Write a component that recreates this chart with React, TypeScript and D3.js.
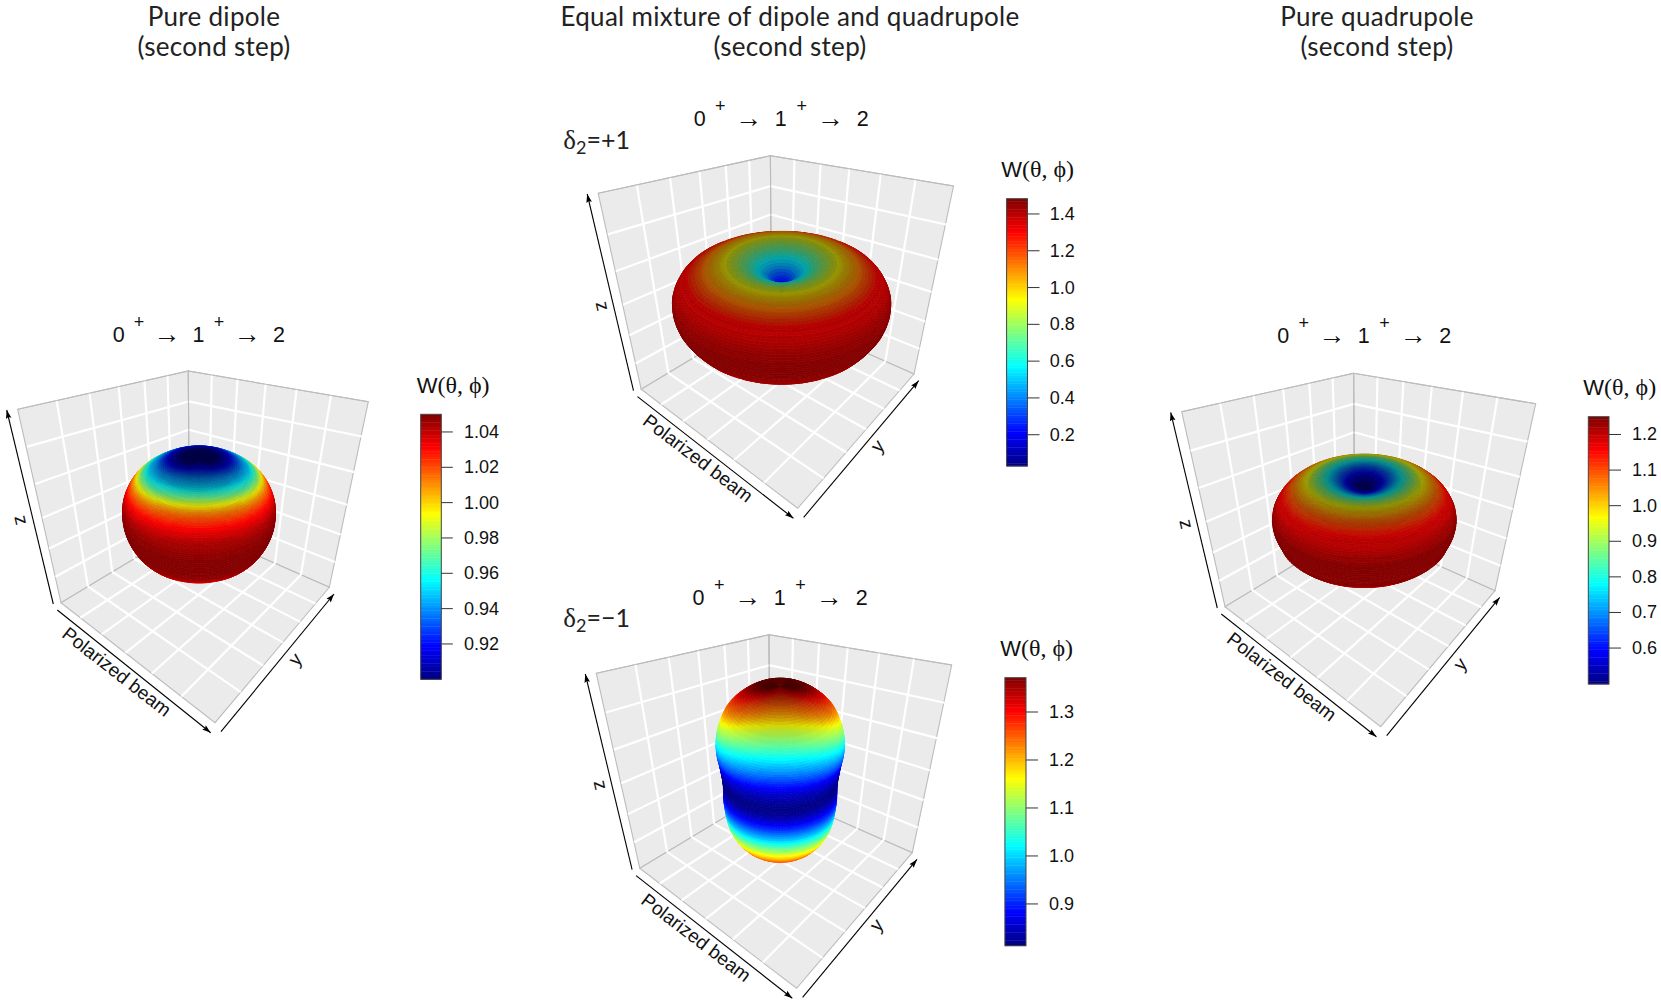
import React from "react";
import * as d3 from "d3";

// W(theta), one value per 4 degrees of polar angle (0 = +z, 180 = -z)
const polarStep = 4;
const wDipole = [.90,.90,.90,.903,.907,.912,.918,.925,.932,.94,.945,.95,.96,.97,.985,1.00,1.013,1.022,1.03,1.036,1.041,1.045,1.047,1.048,1.049,1.05,1.05,1.05,1.049,1.048,1.047,1.045,1.04,1.032,1.02,1.005,.995,.99,.985,.98,.975,.975,.97,.97,.97,.97];
const wMixPlus = [.03,.04,.06,.10,.16,.23,.31,.40,.49,.59,.68,.77,.86,.93,.98,1.04,1.10,1.15,1.21,1.28,1.34,1.38,1.41,1.44,1.46,1.47,1.48,1.48,1.48,1.47,1.46,1.45,1.44,1.42,1.40,1.37,1.33,1.29,1.24,1.18,1.12,1.05,1.00,.95,.92,.90];
const wMixMinus = [1.37,1.37,1.365,1.355,1.34,1.32,1.30,1.28,1.26,1.24,1.215,1.18,1.14,1.11,1.075,1.04,1.005,.97,.935,.90,.87,.85,.835,.825,.818,.82,.825,.84,.86,.885,.915,.945,.98,1.02,1.065,1.11,1.15,1.19,1.22,1.25,1.27,1.29,1.31,1.33,1.35,1.37];
const wQuad = [.50,.505,.515,.53,.55,.58,.62,.66,.71,.76,.81,.86,.91,.96,1.00,1.04,1.08,1.11,1.14,1.17,1.19,1.21,1.23,1.24,1.25,1.25,1.25,1.245,1.24,1.25,1.23,1.21,1.19,1.17,1.15,1.13,1.10,1.07,1.04,1.02,1.00,.98,.96,.94,.93,.92];

const ticksDipole = [0.92,0.94,0.96,0.98,1.00,1.02,1.04];
const ticksMixPlus = [0.2,0.4,0.6,0.8,1.0,1.2,1.4];
const ticksMixMinus = [0.9,1.0,1.1,1.2,1.3];
const ticksQuad = [0.6,0.7,0.8,0.9,1.0,1.1,1.2];

const rangeDipole: [number,number] = [0.90,1.05];
const rangeMixPlus: [number,number] = [0.03,1.483];
const rangeMixMinus: [number,number] = [0.813,1.3715];
const rangeQuad: [number,number] = [0.499,1.25];

const titles = [
  {x:214, lines:["Pure dipole","(second step)"]},
  {x:790, lines:["Equal mixture of dipole and quadrupole","(second step)"]},
  {x:1377, lines:["Pure quadrupole","(second step)"]},
];

const jetStops = ["#00007F","#0000FF","#007FFF","#00FFFF","#7FFF7F","#FFFF00","#FF7F00","#FF0000","#7F0000"];
const jetScale = d3.scaleLinear<string>().domain(jetStops.map((_,i)=>i/8)).range(jetStops).interpolate(d3.interpolateRgb).clamp(true);
const jetLevels = d3.range(100).map(i=>jetScale((i+.5)/100));

type P=[number,number];
interface Panel {
  B:P;L:P;R:P;T:P;F:P;LT:P;RT:P;
  w:number[]; range:[number,number]; ticks:number[]; fmt:string;
  cx:number;cy:number;rx:number;kz:number;ry:number;tilt:number;shadeK:number;shadeP:number;
  bar:[number,number,number,number]; tickLen:number; labelX:number;
  formula:[number,number,number]; wTitle:P; zLab:P; yLab:P; xLab:P;
  delta?:{x:number;y:number;s:string};
}
const panels:Panel[] = [
 {B:[189.3,525.7],L:[61,602.7],R:[329.3,587.3],T:[188.3,371],F:[215,722.7],LT:[17.7,409.3],RT:[368.3,401.7],
  w:wDipole,range:rangeDipole,ticks:ticksDipole,fmt:".2f",cx:199,cy:512,rx:73,kz:56,ry:42,tilt:15,shadeK:.5,shadeP:4,
  bar:[420.7,414.3,441.3,679.3],tickLen:11.5,labelX:464,formula:[118.7,341.7,1],wTitle:[416.7,392.7],zLab:[21.7,520],yLab:[295,659.3],xLab:[116.7,671.7]},
 {B:[771.5,311],L:[641.2,389.3],R:[914,374],T:[770.4,155.7],F:[797.7,508.3],LT:[598.2,193.3],RT:[953.5,186],
  w:wMixPlus,range:rangeMixPlus,ticks:ticksMixPlus,fmt:".1f",cx:781.6,cy:294.7,rx:75.2,kz:52,ry:38,tilt:0,shadeK:.45,shadeP:1.5,
  bar:[1006.6,198.7,1027.5,466],tickLen:12,labelX:1049.7,formula:[699.7,125.7,1.017],wTitle:[1001.2,177.3],zLab:[602.8,306],yLab:[877.4,446],xLab:[698,458.3],delta:{x:563.3,y:149.3,s:"=+1"}},
 {B:[770.1,790],L:[639.8,868.3],R:[912.3,852.7],T:[769,634.7],F:[796.6,988.3],LT:[596.3,673.3],RT:[951.7,665],
  w:wMixMinus,range:rangeMixMinus,ticks:ticksMixMinus,fmt:".1f",cx:780.2,cy:772,rx:71,kz:61.7,ry:38.3,tilt:20,shadeK:.5,shadeP:4,
  bar:[1004.9,677.7,1026,945.7],tickLen:12,labelX:1049,formula:[698.6,605,1.017],wTitle:[1000.2,656],zLab:[601,785],yLab:[876.3,925],xLab:[696.2,937.7],delta:{x:563.3,y:626.7,s:"=−1"}},
 {B:[1354.7,528.3],L:[1225,606.7],R:[1495,590.7],T:[1353.7,373.3],F:[1380.7,726.7],LT:[1181.7,411.7],RT:[1535.7,403.7],
  w:wQuad,range:rangeQuad,ticks:ticksQuad,fmt:".1f",cx:1364.3,cy:515,rx:73.9,kz:50,ry:38.3,tilt:10,shadeK:.45,shadeP:1.5,
  bar:[1588.3,416.7,1609,684],tickLen:12,labelX:1632,formula:[1283.3,343.3,1.01],wTitle:[1583.3,395],zLab:[1186.7,524],yLab:[1460,664],xLab:[1281.7,676.7]},
];

const gridCuts = d3.range(1,6).map(i=>i/6);
const sans = "'Liberation Sans', Arial, sans-serif";
const serif = "'Liberation Serif', 'DejaVu Serif', serif";
const line = d3.line<P>();
const closed = (pts:P[]) => line(pts)+"Z";

function makeProjection(p:Panel){
  const {B,L,R,T,F,LT,RT}=p;
  const sub=(a:P,b:P):P=>[a[0]-b[0],a[1]-b[1]];
  const a1=sub(F,L),a2=sub(F,R);
  const rhs:P=[L[0]+R[0]-B[0]-F[0],L[1]+R[1]-B[1]-F[1]];
  const det=a1[0]*a2[1]-a2[0]*a1[1];
  const pp=(rhs[0]*a2[1]-a2[0]*rhs[1])/det;
  const qq=(a1[0]*rhs[1]-rhs[0]*a1[1])/det;
  const solveR=(C:P,S:P,k:number)=>{
    const v=sub(C,T);
    const e:P=[S[0]+T[0]-B[0]-C[0]-k*(C[0]-S[0]),S[1]+T[1]-B[1]-C[1]-k*(C[1]-S[1])];
    return (e[0]*v[0]+e[1]*v[1])/(v[0]*v[0]+v[1]*v[1]);
  };
  const rr=(solveR(LT,L,pp)+solveR(RT,R,qq))/2;
  return (u:number,v:number,w:number):P=>{
    const D=1+u*pp+v*qq+w*rr;
    const f=(i:0|1)=>B[i]+u*((1+pp)*L[i]-B[i])+v*((1+qq)*R[i]-B[i])+w*((1+rr)*T[i]-B[i]);
    return [f(0)/D,f(1)/D];
  };
}

function Box({p}:{p:Panel}){
  const proj=makeProjection(p);
  const grid:P[][]=[];
  gridCuts.forEach(c=>{
    grid.push([proj(c,0,0),proj(c,0,1)],[proj(0,0,c),proj(1,0,c)]);
    grid.push([proj(0,c,0),proj(0,c,1)],[proj(0,0,c),proj(0,1,c)]);
    grid.push([proj(c,0,0),proj(c,1,0)],[proj(0,c,0),proj(1,c,0)]);
  });
  return <g>
    {[[p.B,p.L,p.LT,p.T],[p.B,p.R,p.RT,p.T],[p.B,p.L,p.F,p.R]].map((q,i)=>
      <path key={i} d={closed(q as P[])} fill="#ebebeb" stroke="#bcbcbc" strokeWidth={1.1}/>)}
    {grid.map((g,i)=><path key={i} d={line(g)!} stroke="#fff" strokeWidth={2.2} fill="none"/>)}
    {[[p.B,p.T],[p.T,p.LT],[p.T,p.RT]].map((g,i)=><path key={i} d={line(g as P[])!} stroke="#bcbcbc" strokeWidth={1.1} fill="none"/>)}
  </g>;
}

function Surface({p}:{p:Panel}){
  const step=2, n=90, dPhi=3, nPhi=120;
  const rad=Math.PI/180;
  const wAt=d3.scaleLinear().domain(p.w.map((_,i)=>i*polarStep)).range(p.w).clamp(true);
  const world=(i:number,j:number)=>{
    const t=i*step*rad, f=j*dPhi*rad, r=wAt(i*step);
    return [r*Math.sin(t)*Math.cos(f), r*Math.sin(t)*Math.sin(f), r*Math.cos(t)];
  };
  const screen=(w:number[]):P=>[p.cx+p.rx*w[0], p.cy-p.kz*w[2]+p.ry*w[1]];
  const e=Math.atan2(p.ry,p.kz);
  const t01=d3.scaleLinear().domain(p.range).range([0,1]).clamp(true);
  const facets:{d:string;c:string;z:number}[]=[];
  for(let i=0;i<n;i++) for(let j=0;j<nPhi;j++){
    const a=world(i,j),b=world(i+1,j),c=world(i+1,j+1),dd=world(i,j+1);
    const pts:P[]=[a,b,c,dd].map(screen);
    if(d3.polygonArea(pts)>0) continue;
    const mid=[0,1,2].map(k=>(a[k]+b[k]+c[k]+dd[k])/4);
    const depth=mid[1]*Math.cos(e)+mid[2]*Math.sin(e);
    const u=[c[0]-a[0],c[1]-a[1],c[2]-a[2]], v=[dd[0]-b[0],dd[1]-b[1],dd[2]-b[2]];
    const nn=[u[1]*v[2]-u[2]*v[1],u[2]*v[0]-u[0]*v[2],u[0]*v[1]-u[1]*v[0]];
    const nl=Math.hypot(nn[0],nn[1],nn[2])||1;
    const shade=1-p.shadeK*Math.pow(Math.max(0,nn[2]/nl),p.shadeP);
    const th=(i+.5)*step, ph=(j+.5)*dPhi*rad;
    const thC=Math.abs(th+p.tilt*Math.sin(ph)*Math.max(0,Math.cos(th*rad)));
    const level=Math.min(99,Math.floor(t01(wAt(thC))*100));
    const col=d3.rgb(jetLevels[level]);
    const cs=d3.rgb(col.r*shade,col.g*shade,col.b*shade).formatHex();
    facets.push({d:closed(pts),c:cs,z:depth});
  }
  facets.sort((x,y)=>d3.ascending(x.z,y.z));
  return <g>{facets.map((f,i)=><path key={i} d={f.d} fill={f.c} stroke={f.c} strokeWidth={.7}/>)}</g>;
}

function Arrow({from,to}:{from:P;to:P}){
  const a=Math.atan2(to[1]-from[1],to[0]-from[0]), l=9, h=.32;
  const head:P[]=[to,[to[0]-l*Math.cos(a-h),to[1]-l*Math.sin(a-h)],[to[0]-l*.8*Math.cos(a),to[1]-l*.8*Math.sin(a)],[to[0]-l*Math.cos(a+h),to[1]-l*Math.sin(a+h)]];
  return <g><path d={line([from,to])!} stroke="#000" strokeWidth={1.1}/><path d={closed(head)} fill="#000"/></g>;
}

function Axes({p}:{p:Panel}){
  const off=(a:P,dx:number,dy:number):P=>[a[0]+dx,a[1]+dy];
  const ang=(a:P,b:P)=>Math.atan2(b[1]-a[1],b[0]-a[0])*180/Math.PI;
  const lab=(xy:P,rot:number,s:string)=><text transform={`translate(${xy[0]},${xy[1]}) rotate(${rot})`} textAnchor="middle" dominantBaseline="central" fontFamily={sans} fontSize={19} fill="#111">{s}</text>;
  return <g>
    <Arrow from={off(p.L,-7.7,1.3)} to={off(p.LT,-11,.7)}/>
    <Arrow from={off(p.L,-3.7,7.3)} to={off(p.F,-4.3,10)}/>
    <Arrow from={off(p.F,6,9)} to={off(p.R,4.7,6.7)}/>
    {lab(p.xLab,ang(p.L,p.F),"Polarized beam")}
    {lab(p.zLab,ang(p.LT,p.L),"z")}
    {lab(p.yLab,ang(p.F,p.R),"y")}
  </g>;
}

function Formula({p}:{p:Panel}){
  const [x0,y,k]=p.formula;
  const t=(dx:number,dy:number,s:string,fs:number,fam:string)=><text x={x0+dx*k} y={y+dy} textAnchor="middle" fontFamily={fam} fontSize={fs} fill="#111">{s}</text>;
  return <g>
    {t(0,0,"0",21.5,sans)}{t(20.3,-14,"+",18,sans)}{t(48,1,"→",27,serif)}
    {t(79.7,0,"1",21.5,sans)}{t(100.3,-14,"+",18,sans)}{t(128.3,1,"→",27,serif)}
    {t(160.3,0,"2",21.5,sans)}
  </g>;
}

function ColorBar({p}:{p:Panel}){
  const [x0,y0,x1,y1]=p.bar;
  const y=d3.scaleLinear().domain(p.range).range([y1,y0]);
  const f=d3.format(p.fmt);
  const h=(y1-y0)/100;
  return <g>
    {jetLevels.map((c,i)=><rect key={i} x={x0} y={y1-(i+1)*h} width={x1-x0} height={h+.4} fill={c}/>)}
    <rect x={x0} y={y0} width={x1-x0} height={y1-y0} fill="none" stroke="#444" strokeWidth={1}/>
    {p.ticks.map(t=><g key={t}>
      <line x1={x1} x2={x1+p.tickLen} y1={y(t)} y2={y(t)} stroke="#333" strokeWidth={1}/>
      <text x={p.labelX} y={y(t)} dominantBaseline="central" fontFamily={sans} fontSize={18} fill="#111">{f(t)}</text>
    </g>)}
    <text x={p.wTitle[0]} y={p.wTitle[1]} fontSize={24} fill="#111" fontFamily={serif}>
      <tspan fontFamily={sans} fontSize={22}>W</tspan><tspan>(θ, ϕ)</tspan>
    </text>
  </g>;
}

export default function App(){
  return <svg width={1661} height={1006} viewBox="0 0 1661 1006" style={{position:"absolute",left:0,top:0,background:"#fff"}}>
    {titles.map((t,i)=><g key={i}>{t.lines.map((s,j)=>
      <text key={j} x={t.x} y={j===0?25.8:56} textAnchor="middle" fontFamily="Lato, 'Open Sans', sans-serif" fontSize={26} letterSpacing={.3} fill="#222">{s}</text>)}</g>)}
    {panels.map((p,i)=><g key={i}>
      <Box p={p}/>
      <Surface p={p}/>
      <Axes p={p}/>
      <Formula p={p}/>
      <ColorBar p={p}/>
      {p.delta && <text x={p.delta.x} y={p.delta.y} fontFamily="Lato, sans-serif" fontSize={25} fill="#222">
        <tspan fontFamily={serif} fontSize={27}>δ</tspan><tspan fontSize={18} dy={5}>2</tspan><tspan dy={-5}>{p.delta.s}</tspan>
      </text>}
    </g>)}
  </svg>;
}
